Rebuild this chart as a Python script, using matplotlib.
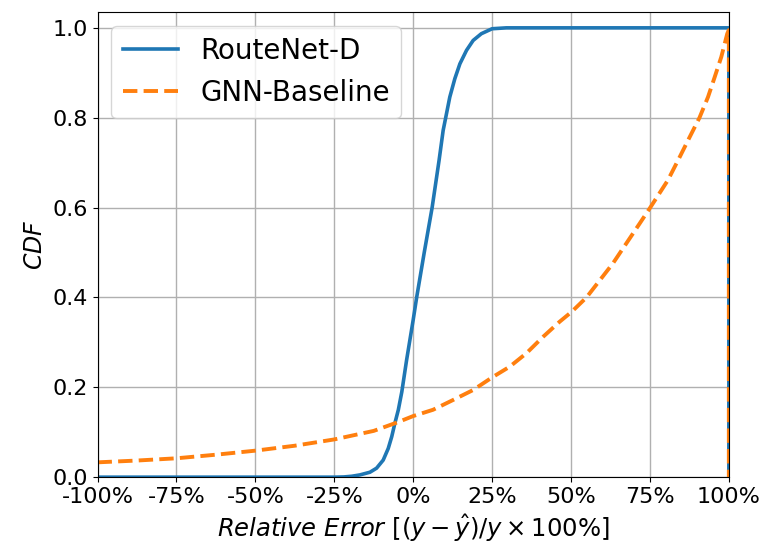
import numpy as np
import matplotlib.pyplot as plt
from matplotlib.ticker import FuncFormatter

# CDF of relative error (in %), read as (error, cumulative fraction) pairs.
# The last point of each series closes the step histogram back down to 0.
routenet_err = [-100, -25, -22, -19.5, -16.9, -13.7, -11.6, -9.5, -7.9, -6.8, -5.8, -4.7,
                -3.6, -2.1, 0, 1.1, 3.5, 6, 8.2, 9.5, 10.3, 11.6, 13.2, 14.8, 16.9,
                19, 21.6, 25, 29.5, 100, 100]
routenet_cdf = [0, 0, 0.0005, 0.002, 0.005, 0.011, 0.02, 0.038, 0.064, 0.09, 0.12, 0.15,
                0.19, 0.26, 0.35, 0.4, 0.5, 0.6, 0.705, 0.772, 0.8, 0.846, 0.887,
                0.92, 0.95, 0.972, 0.987, 0.998, 1.0, 1.0, 0]

baseline_err = [-100, -87.5, -75, -62.5, -50, -37.5, -25, -12.5, -5, 0, 6.3, 12.7,
                19, 25, 30.6, 35.9, 41.1, 46.4, 50.2, 54.9, 59.1, 63.3, 67.5, 71.7,
                75.1, 80.7, 84.4, 87.6, 90.7, 93.4, 95.5, 97.6, 99.5, 100, 100]
baseline_cdf = [0.033, 0.037, 0.042, 0.05, 0.059, 0.07, 0.084, 0.103, 0.122, 0.136,
                0.15, 0.172, 0.194, 0.222, 0.246, 0.276, 0.312, 0.346, 0.368, 0.4,
                0.438, 0.476, 0.52, 0.564, 0.6, 0.661, 0.712, 0.757, 0.8, 0.846,
                0.89, 0.935, 0.987, 0.995, 0]

xticks = [-100, -75, -50, -25, 0, 25, 50, 75, 100]

fig = plt.figure(figsize=(7.68, 5.51), dpi=100)
ax = fig.add_axes([0.127, 0.134, 0.822, 0.844])

ax.plot(routenet_err, routenet_cdf, color='tab:blue', lw=2.6, label='RouteNet-D')
ax.plot(baseline_err, baseline_cdf, color='tab:orange', lw=2.8, ls='--', label='GNN-Baseline')

ax.set_xlim(-100, 100)
ax.set_ylim(0, 1.035)
ax.set_xticks(xticks)
ax.xaxis.set_major_formatter(FuncFormatter(lambda v, p: '%d%%' % v))
ax.set_yticks(np.arange(0, 1.01, 0.2))
ax.tick_params(labelsize=16)
ax.grid(True, color='#b0b0b0', lw=1)

ax.set_xlabel(r'$Relative\ Error\ [(y-\hat{y})/y\times100\%]$', fontsize=17.5)
ax.set_ylabel(r'$CDF$', fontsize=17)
ax.legend(loc='upper left', fontsize=20)

fig.savefig('out.png', dpi=100)
